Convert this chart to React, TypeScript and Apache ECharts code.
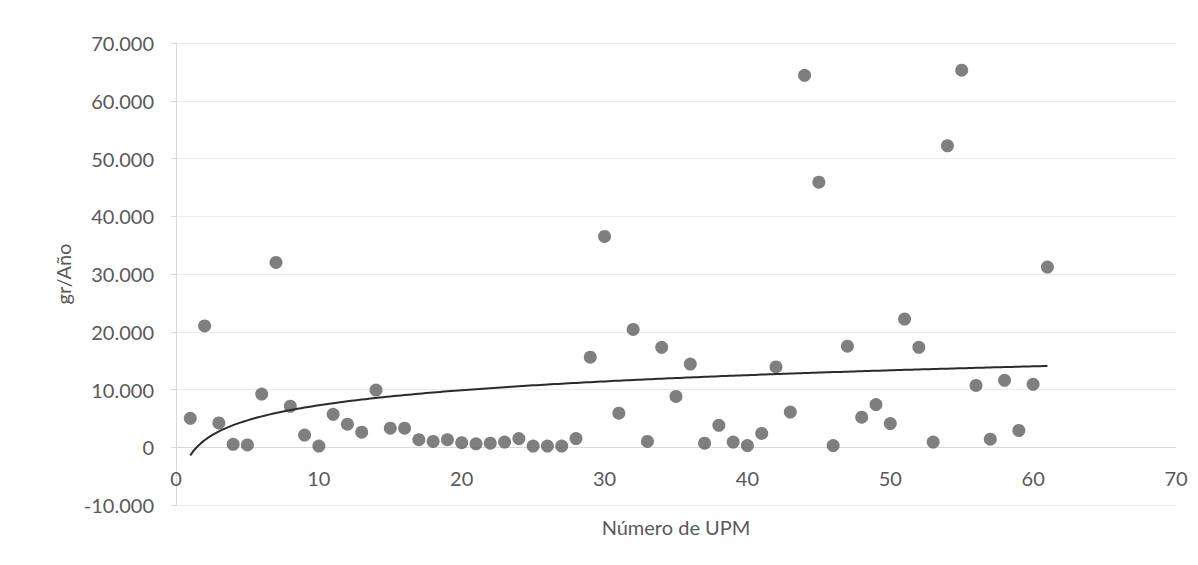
import React, { useEffect, useRef } from "react";
import * as echarts from "echarts";

const upm: number[] = [
  1, 2, 3, 4, 5, 6, 7, 8, 9, 10,
  11, 12, 13, 14, 15, 16, 17, 18, 19, 20,
  21, 22, 23, 24, 25, 26, 27, 28, 29, 30,
  31, 32, 33, 34, 35, 36, 37, 38, 39, 40,
  41, 42, 43, 44, 45, 46, 47, 48, 49, 50,
  51, 52, 53, 54, 55, 56, 57, 58, 59, 60, 61,
];

const grAnio: number[] = [
  5000, 21000, 4200, 500, 400, 9200, 32000, 7100, 2100, 200,
  5700, 4000, 2600, 9900, 3300, 3300, 1300, 1000, 1300, 800,
  600, 700, 900, 1500, 200, 200, 200, 1500, 15600, 36500,
  5900, 20400, 1000, 17300, 8800, 14400, 700, 3800, 900, 300,
  2400, 13900, 6100, 64400, 45900, 300, 17500, 5200, 7400, 4100,
  22200, 17300, 900, 52200, 65300, 10700, 1400, 11600, 2900, 10900, 31200,
];

const xTicks = { min: 0, max: 70, interval: 10 };
const yTicks = { min: -10000, max: 70000, interval: 10000 };

const xName = "Número de UPM";
const yName = "gr/Año";

// Logarithmic trend line (least squares on ln(x)), as the spreadsheet computes it
function logTrend(xs: number[], ys: number[]) {
  const n = xs.length;
  const us = xs.map((x) => Math.log(x));
  const mu = us.reduce((s, u) => s + u, 0) / n;
  const my = ys.reduce((s, y) => s + y, 0) / n;
  let suu = 0;
  let suy = 0;
  for (let i = 0; i < n; i++) {
    suu += (us[i] - mu) * (us[i] - mu);
    suy += (us[i] - mu) * (ys[i] - my);
  }
  const a = suy / suu;
  const b = my - a * mu;
  const x0 = Math.min(...xs);
  const x1 = Math.max(...xs);
  const pts: number[][] = [];
  const steps = 240;
  for (let k = 0; k <= steps; k++) {
    const x = x0 + ((x1 - x0) * k) / steps;
    pts.push([x, a * Math.log(x) + b]);
  }
  return pts;
}

function fmt(v: number): string {
  const s = String(Math.abs(Math.round(v))).replace(/\B(?=(\d{3})+(?!\d))/g, ".");
  return v < 0 ? "-" + s : s;
}

const W = 1198;
const H = 565;
const GRID = { left: 176, right: 22, top: 43, bottom: 60 };

export default function App() {
  const ref = useRef<HTMLDivElement>(null);

  useEffect(() => {
    document.body.style.margin = "0";
    if (!ref.current) return;
    const chart = echarts.init(ref.current, undefined, { renderer: "svg" });
    const font = "Lato, 'Open Sans', sans-serif";
    const labelColor = "#595959";

    // place the x axis on y = 0 (as the spreadsheet does)
    const plotH = H - GRID.top - GRID.bottom;
    const zeroOffset = -plotH * (0 - yTicks.min) / (yTicks.max - yTicks.min);

    chart.setOption({
      animation: false,
      backgroundColor: "#ffffff",
      textStyle: { fontFamily: font },
      grid: {
        ...GRID,
        containLabel: false,
        outerBoundsMode: "none",
      },
      xAxis: {
        type: "value",
        min: xTicks.min,
        max: xTicks.max,
        interval: xTicks.interval,
        position: "bottom",
        offset: zeroOffset,
        name: xName,
        nameLocation: "middle",
        nameGap: 70,
        nameTextStyle: { fontFamily: font, fontSize: 20, color: labelColor },
        axisLine: { show: true, onZero: false, lineStyle: { color: "#d9d9d9", width: 1 } },
        axisTick: { show: false },
        axisLabel: { fontFamily: font, fontSize: 20, color: labelColor, margin: 21 },
        splitLine: { show: false },
      },
      yAxis: {
        type: "value",
        min: yTicks.min,
        max: yTicks.max,
        interval: yTicks.interval,
        name: yName,
        nameLocation: "middle",
        nameGap: 102,
        nameTextStyle: { fontFamily: font, fontSize: 20, color: labelColor },
        axisLine: { show: true, lineStyle: { color: "#d9d9d9", width: 1 } },
        axisTick: { show: true, length: 5, lineStyle: { color: "#d9d9d9" } },
        axisLabel: {
          fontFamily: font,
          fontSize: 20,
          color: labelColor,
          margin: 22,
          formatter: (v: number) => fmt(v),
        },
        splitLine: { show: true, lineStyle: { color: "#ececec", width: 1 } },
      },
      series: [
        {
          name: yName,
          type: "scatter",
          data: upm.map((x, i) => [x, grAnio[i]]),
          symbol: "circle",
          symbolSize: 13,
          itemStyle: { color: "#5f5f5f" },
          z: 3,
        },
        {
          name: "Logarítmica",
          type: "line",
          data: logTrend(upm, grAnio),
          showSymbol: false,
          symbol: "none",
          lineStyle: { color: "#2b2b2b", width: 2 },
          z: 4,
        },
      ],
    });

    return () => chart.dispose();
  }, []);

  return <div ref={ref} style={{ width: W, height: H }} />;
}
